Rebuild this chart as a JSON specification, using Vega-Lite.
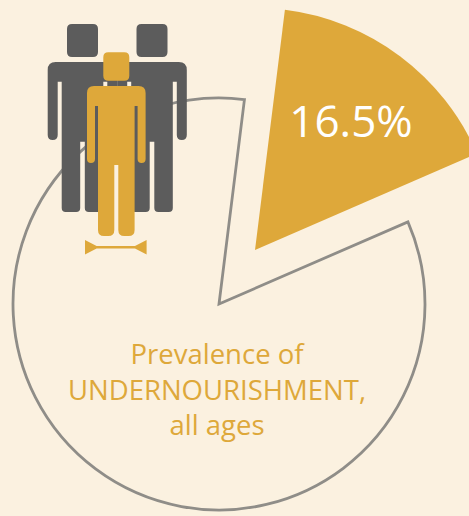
{
  "$schema": "https://vega.github.io/schema/vega-lite/v6.json",
  "width": 469,
  "height": 516,
  "autosize": {"type": "none"},
  "padding": 0,
  "background": "#FBF1E0",
  "view": {"stroke": null, "fill": null},
  "config": {"font": "Open Sans"},
  "datasets": {
    "pie": [
      {"segment": "Undernourished", "start": 0, "end": 16.5, "label": "16.5%"},
      {"segment": "Rest", "start": 16.5, "end": 100, "label": "Prevalence of\nUNDERNOURISHMENT,\nall ages"}
    ]
  },
  "encoding": {
    "theta": {"field": "start", "type": "quantitative", "stack": false, "scale": {"domain": [0, 100], "range": [0.124, 6.407]}},
    "theta2": {"field": "end"}
  },
  "layer": [
    {
      "data": {"name": "pie"},
      "transform": [{"filter": "datum.segment === 'Rest'"}],
      "mark": {"type": "arc", "outerRadius": 206, "innerRadius": 0, "fill": null, "stroke": "#8F8D88", "strokeWidth": 2.8, "strokeJoin": "miter"},
      "encoding": {
        "x": {"datum": 219, "type": "quantitative", "scale": {"domain": [0, 469], "range": [0, 469], "nice": false}, "axis": null},
        "y": {"datum": 304, "type": "quantitative", "scale": {"domain": [0, 516], "range": [0, 516], "nice": false}, "axis": null}
      }
    },
    {
      "data": {"name": "pie"},
      "transform": [{"filter": "datum.segment === 'Undernourished'"}],
      "mark": {"type": "arc", "outerRadius": 242, "innerRadius": 0, "fill": "#DEA83A"},
      "encoding": {
        "x": {"datum": 255, "type": "quantitative"},
        "y": {"datum": 250, "type": "quantitative"}
      }
    },
    {
      "data": {"values": [{"figure": "left"}]},
      "mark": {"type": "point", "filled": true, "opacity": 1, "fill": "#5C5C5C", "strokeWidth": 0, "size": 4,
        "shape": "M-26.8 38 L26.8 38 Q34.8 38 34.8 46 L34.8 111 Q34.8 116 29.8 116 Q24.8 116 24.8 111 L24.8 57.7 L20.8 57.7 L20.8 184 Q20.8 188 16.8 188 L6.3 188 Q2.3 188 2.3 184 L2.3 117.7 L-2.3 117.7 L-2.3 184 Q-2.3 188 -6.3 188 L-16.8 188 Q-20.8 188 -20.8 184 L-20.8 57.7 L-24.8 57.7 L-24.8 111 Q-24.8 116 -29.8 116 Q-34.8 116 -34.8 111 L-34.8 46 Q-34.8 38 -26.8 38 Z M-10.5 0 L10.5 0 Q15.5 0 15.5 5 L15.5 28 Q15.5 33 10.5 33 L-10.5 33 Q-15.5 33 -15.5 28 L-15.5 5 Q-15.5 0 -10.5 0 Z"},
      "encoding": {"theta": null, "theta2": null, "x": {"datum": 82.5, "type": "quantitative"}, "y": {"datum": 24, "type": "quantitative"}}
    },
    {
      "data": {"values": [{"figure": "right"}]},
      "mark": {"type": "point", "filled": true, "opacity": 1, "fill": "#5C5C5C", "strokeWidth": 0, "size": 4,
        "shape": "M-26.8 38 L26.8 38 Q34.8 38 34.8 46 L34.8 111 Q34.8 116 29.8 116 Q24.8 116 24.8 111 L24.8 57.7 L20.8 57.7 L20.8 184 Q20.8 188 16.8 188 L6.3 188 Q2.3 188 2.3 184 L2.3 117.7 L-2.3 117.7 L-2.3 184 Q-2.3 188 -6.3 188 L-16.8 188 Q-20.8 188 -20.8 184 L-20.8 57.7 L-24.8 57.7 L-24.8 111 Q-24.8 116 -29.8 116 Q-34.8 116 -34.8 111 L-34.8 46 Q-34.8 38 -26.8 38 Z M-10.5 0 L10.5 0 Q15.5 0 15.5 5 L15.5 28 Q15.5 33 10.5 33 L-10.5 33 Q-15.5 33 -15.5 28 L-15.5 5 Q-15.5 0 -10.5 0 Z"},
      "encoding": {"theta": null, "theta2": null, "x": {"datum": 152, "type": "quantitative"}, "y": {"datum": 24, "type": "quantitative"}}
    },
    {
      "data": {"values": [{"figure": "front"}]},
      "mark": {"type": "point", "filled": true, "opacity": 1, "fill": "#DEA83A", "strokeWidth": 0, "size": 4,
        "shape": "M-22.3 33.7 L22.3 33.7 Q29.3 33.7 29.3 40.7 L29.3 106.7 Q29.3 110.7 25.3 110.7 Q21.3 110.7 21.3 106.7 L21.3 53.7 L18.3 53.7 L18.3 177.7 Q18.3 183.7 12.3 183.7 L8 183.7 Q2 183.7 2 177.7 L2 112.7 L-2 112.7 L-2 177.7 Q-2 183.7 -8 183.7 L-12.3 183.7 Q-18.3 183.7 -18.3 177.7 L-18.3 53.7 L-21.3 53.7 L-21.3 106.7 Q-21.3 110.7 -25.3 110.7 Q-29.3 110.7 -29.3 106.7 L-29.3 40.7 Q-29.3 33.7 -22.3 33.7 Z M-8 0 L8 0 Q13 0 13 5 L13 23.4 Q13 28.4 8 28.4 L-8 28.4 Q-13 28.4 -13 23.4 L-13 5 Q-13 0 -8 0 Z"},
      "encoding": {"theta": null, "theta2": null, "x": {"datum": 116.3, "type": "quantitative"}, "y": {"datum": 52.3, "type": "quantitative"}}
    },
    {
      "data": {"values": [{"figure": "width arrows"}]},
      "mark": {"type": "point", "filled": true, "opacity": 1, "fill": "#DEA83A", "strokeWidth": 0, "size": 4,
        "shape": "M-30.8 -7.2 L-19.2 -1.3 L19.2 -1.3 L30.8 -7.2 L30.8 7.2 L19.2 1.3 L-19.2 1.3 L-30.8 7.2 Z"},
      "encoding": {"theta": null, "theta2": null, "x": {"datum": 115.8, "type": "quantitative"}, "y": {"datum": 247.3, "type": "quantitative"}}
    },
    {
      "data": {"name": "pie"},
      "transform": [{"filter": "datum.segment === 'Undernourished'"}],
      "mark": {"type": "text", "align": "center", "baseline": "alphabetic", "fontSize": 44, "fill": "#FFFFFF"},
      "encoding": {"theta": null, "theta2": null, "x": {"datum": 351, "type": "quantitative"}, "y": {"datum": 137, "type": "quantitative"}, "text": {"field": "label"}}
    },
    {
      "data": {"name": "pie"},
      "transform": [{"filter": "datum.segment === 'Rest'"}],
      "mark": {"type": "text", "align": "center", "baseline": "alphabetic", "fontSize": 27.5, "lineHeight": 35.5, "lineBreak": "\n", "fill": "#DEA83A"},
      "encoding": {"theta": null, "theta2": null, "x": {"datum": 217, "type": "quantitative"}, "y": {"datum": 364, "type": "quantitative"}, "text": {"field": "label"}}
    }
  ]
}
